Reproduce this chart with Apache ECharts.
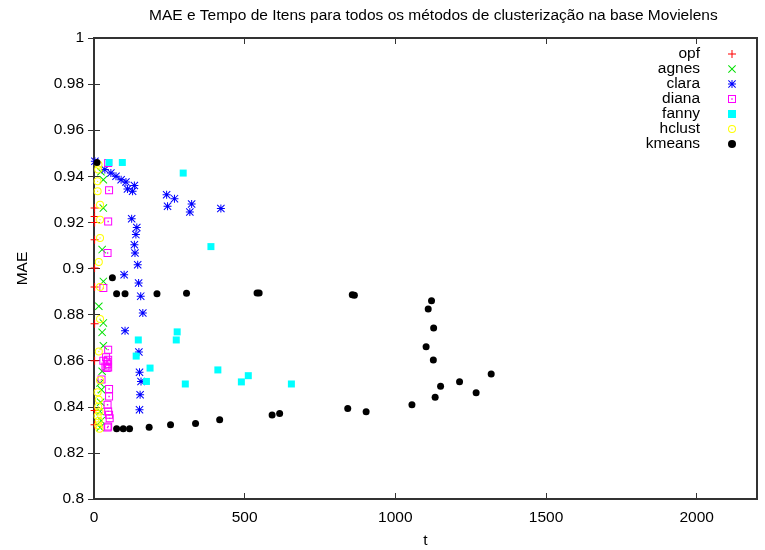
<!DOCTYPE html>
<html>
<head>
<meta charset="utf-8">
<script src="https://cdn.jsdelivr.net/npm/echarts@6/dist/echarts.min.js"></script>
<style>
  html, body { margin: 0; padding: 0; background: #fff; }
  #main { width: 765px; height: 550px; }
</style>
</head>
<body>
<div id="main"></div>
<script>
"use strict"

// pontos [t, MAE] de cada método
const opf = [[2, 0.9262], [2, 0.9226], [2, 0.920], [2, 0.9125], [2, 0.9002], [2, 0.892],
    [2, 0.876], [2, 0.860], [2, 0.8384], [2, 0.8322]];
const agnes = [[23, 0.942], [31, 0.9385], [31, 0.9262], [27, 0.9082], [31, 0.8944], [16, 0.8836],
    [31, 0.8764], [27, 0.8723], [31, 0.8665], [27, 0.8554], [20, 0.8503], [25, 0.8474],
    [22, 0.842], [20, 0.838], [24, 0.834], [20, 0.831]];
const clara = [[3, 0.9465], [36, 0.9429], [56, 0.9414], [73, 0.940], [90, 0.9385], [106, 0.9375],
    [134, 0.936], [111, 0.9345], [128, 0.9335], [241, 0.932], [267, 0.9303], [244, 0.927],
    [324, 0.928], [318, 0.9245], [421, 0.926], [125, 0.9216], [142, 0.9178], [139, 0.9147],
    [134, 0.9103], [136, 0.9067], [145, 0.9016], [100, 0.8973], [148, 0.8937], [155, 0.888],
    [162, 0.8807], [103, 0.873], [149, 0.8638], [151, 0.855], [156, 0.851], [153, 0.8452],
    [151, 0.8387]];
const diana = [[47, 0.9458], [50, 0.9339], [47, 0.9204], [45, 0.9067], [31, 0.8915], [47, 0.8648],
    [40, 0.8615], [31, 0.860], [47, 0.8604], [44, 0.8595], [45, 0.8585], [38, 0.8575],
    [47, 0.857], [42, 0.8568], [25, 0.8518], [50, 0.8477], [50, 0.8445], [45, 0.8409],
    [47, 0.838], [50, 0.8365], [52, 0.835], [47, 0.8315], [45, 0.831]];
const fanny = [[50, 0.946], [94, 0.946], [296, 0.9414], [388, 0.9095], [147, 0.869], [276, 0.8725],
    [273, 0.869], [140, 0.862], [186, 0.8568], [174, 0.851], [303, 0.8499], [411, 0.856],
    [512, 0.8535], [489, 0.8508], [655, 0.8499]];
const hclust = [[15, 0.945], [14, 0.9429], [12, 0.9378], [12, 0.9335], [20, 0.9277], [20, 0.9212],
    [20, 0.9132], [16, 0.9028], [20, 0.892], [20, 0.8781], [16, 0.864], [20, 0.8515],
    [12, 0.8463], [16, 0.8431], [14, 0.840], [18, 0.838], [12, 0.836], [16, 0.834],
    [14, 0.832], [18, 0.8305]];
const kmeans = [[10, 0.946], [61, 0.896], [75, 0.889], [103, 0.889], [209, 0.889], [307, 0.8893],
    [541, 0.8894], [548, 0.8894], [857, 0.8886], [864, 0.8884], [1120, 0.886], [1109, 0.8824],
    [1127, 0.8742], [1102, 0.8661], [1126, 0.8603], [1318, 0.8542], [1213, 0.8509],
    [1150, 0.8489], [1268, 0.8461], [1132, 0.8441], [1055, 0.8409], [591, 0.8364],
    [616, 0.8371], [842, 0.8393], [903, 0.8379], [75, 0.8305], [97, 0.8305], [118, 0.8305],
    [183, 0.8311], [254, 0.8322], [337, 0.8328], [417, 0.8344]];

const xTicks = [0, 500, 1000, 1500, 2000];
const yTicks = [0.8, 0.82, 0.84, 0.86, 0.88, 0.9, 0.92, 0.94, 0.96, 0.98, 1];

// símbolos estilo gnuplot
const PLUS = 'path://M3.5,0H4.5V3.5H8V4.5H4.5V8H3.5V4.5H0V3.5H3.5Z';
const CROSS = 'path://M0.7,0L4,3.3L7.3,0L8,0.7L4.7,4L8,7.3L7.3,8L4,4.7L0.7,8L0,7.3L3.3,4L0,0.7Z';
const STAR = 'path://M3.5,0H4.5V8H3.5Z M0,3.5H8V4.5H0Z M0.7,0L8,7.3L7.3,8L0,0.7Z M7.3,0L8,0.7L0.7,8L0,7.3Z';
const BOXDOT = 'path://M0,0H8V8H0Z M1,1V7H7V1Z M3.3,3.3H4.7V4.7H3.3Z';
const RINGDOT = 'path://M4,0A4,4,0,1,1,4,8A4,4,0,1,1,4,0Z M4,1A3,3,0,1,0,4,7A3,3,0,1,0,4,1Z M4,3.3A0.7,0.7,0,1,1,4,4.7A0.7,0.7,0,1,1,4,3.3Z';

const FONT = "'Liberation Sans', Arial, Helvetica, sans-serif";
const FS = 15.5;

const chart = echarts.init(document.getElementById('main'));

function serie(name, data, symbol, size, color) {
    return {
        name: name,
        type: 'scatter',
        data: data,
        symbol: symbol,
        symbolSize: size,
        itemStyle: { color: color, opacity: 1 },
        emphasis: { disabled: true },
        animation: false
    };
}

const tickStyle = { show: true, inside: true, length: 6, lineStyle: { color: '#333', width: 1 } };

const option = {
    textStyle: { fontFamily: FONT },
    title: {
        text: 'MAE e Tempo de Itens para todos os métodos de clusterização na base Movielens',
        left: 144,
        top: 3,
        textStyle: { fontSize: FS, fontWeight: 'normal', color: '#000', fontFamily: FONT }
    },
    grid: {
        left: 94, top: 38, right: 8, bottom: 51,
        outerBoundsMode: 'none',
        containLabel: false,
        show: true, borderColor: '#333', borderWidth: 2, backgroundColor: '#fff'
    },
    legend: {
        orient: 'vertical',
        right: 24,
        top: 41,
        align: 'right',
        itemWidth: 8,
        itemHeight: 8,
        itemGap: -1,
        formatter: function (name) { return '{n|' + name + '}'; },
        textStyle: {
            color: '#000', fontSize: FS, fontFamily: FONT, lineHeight: 14,
            rich: { n: { fontSize: FS, lineHeight: 14, fontFamily: FONT, color: '#000', padding: [0, 23, 0, 0] } }
        },
        data: ['opf', 'agnes', 'clara', 'diana', 'fanny', 'hclust', 'kmeans']
    },
    xAxis: [{
        type: 'value', min: xTicks[0], max: 2200, interval: 500,
        name: 't', nameLocation: 'middle', nameGap: 34,
        nameTextStyle: { fontSize: FS, color: '#000', fontFamily: FONT },
        splitLine: { show: false }, axisLine: { show: false },
        axisTick: tickStyle,
        axisLabel: {
            color: '#000', fontSize: FS, margin: 11, showMaxLabel: false, fontFamily: FONT,
            formatter: function (v) { return String(v); }
        }
    }, {
        type: 'value', position: 'top', min: xTicks[0], max: 2200, interval: 500,
        splitLine: { show: false }, axisLine: { show: false },
        axisTick: tickStyle, axisLabel: { show: false }
    }],
    yAxis: [{
        type: 'value', min: yTicks[0], max: yTicks[yTicks.length - 1], interval: 0.02,
        name: 'MAE', nameLocation: 'middle', nameGap: 63,
        nameTextStyle: { fontSize: FS, color: '#000', fontFamily: FONT },
        splitLine: { show: false }, axisLine: { show: false },
        axisTick: tickStyle,
        axisLabel: { color: '#000', fontSize: FS, margin: 10, fontFamily: FONT }
    }, {
        type: 'value', position: 'right', min: yTicks[0], max: yTicks[yTicks.length - 1], interval: 0.02,
        splitLine: { show: false }, axisLine: { show: false },
        axisTick: tickStyle, axisLabel: { show: false }
    }],
    series: [
        serie('opf', opf, PLUS, 8, '#ff0000'),
        serie('agnes', agnes, CROSS, 8, '#00e000'),
        serie('clara', clara, STAR, 8, '#0000ff'),
        serie('diana', diana, BOXDOT, 8, '#ff00ff'),
        serie('fanny', fanny, 'rect', 7, '#00ffff'),
        serie('hclust', hclust, RINGDOT, 8, '#ffff00'),
        serie('kmeans', kmeans, 'circle', 7, '#000000')
    ]
};

chart.setOption(option);
</script>
</body>
</html>
